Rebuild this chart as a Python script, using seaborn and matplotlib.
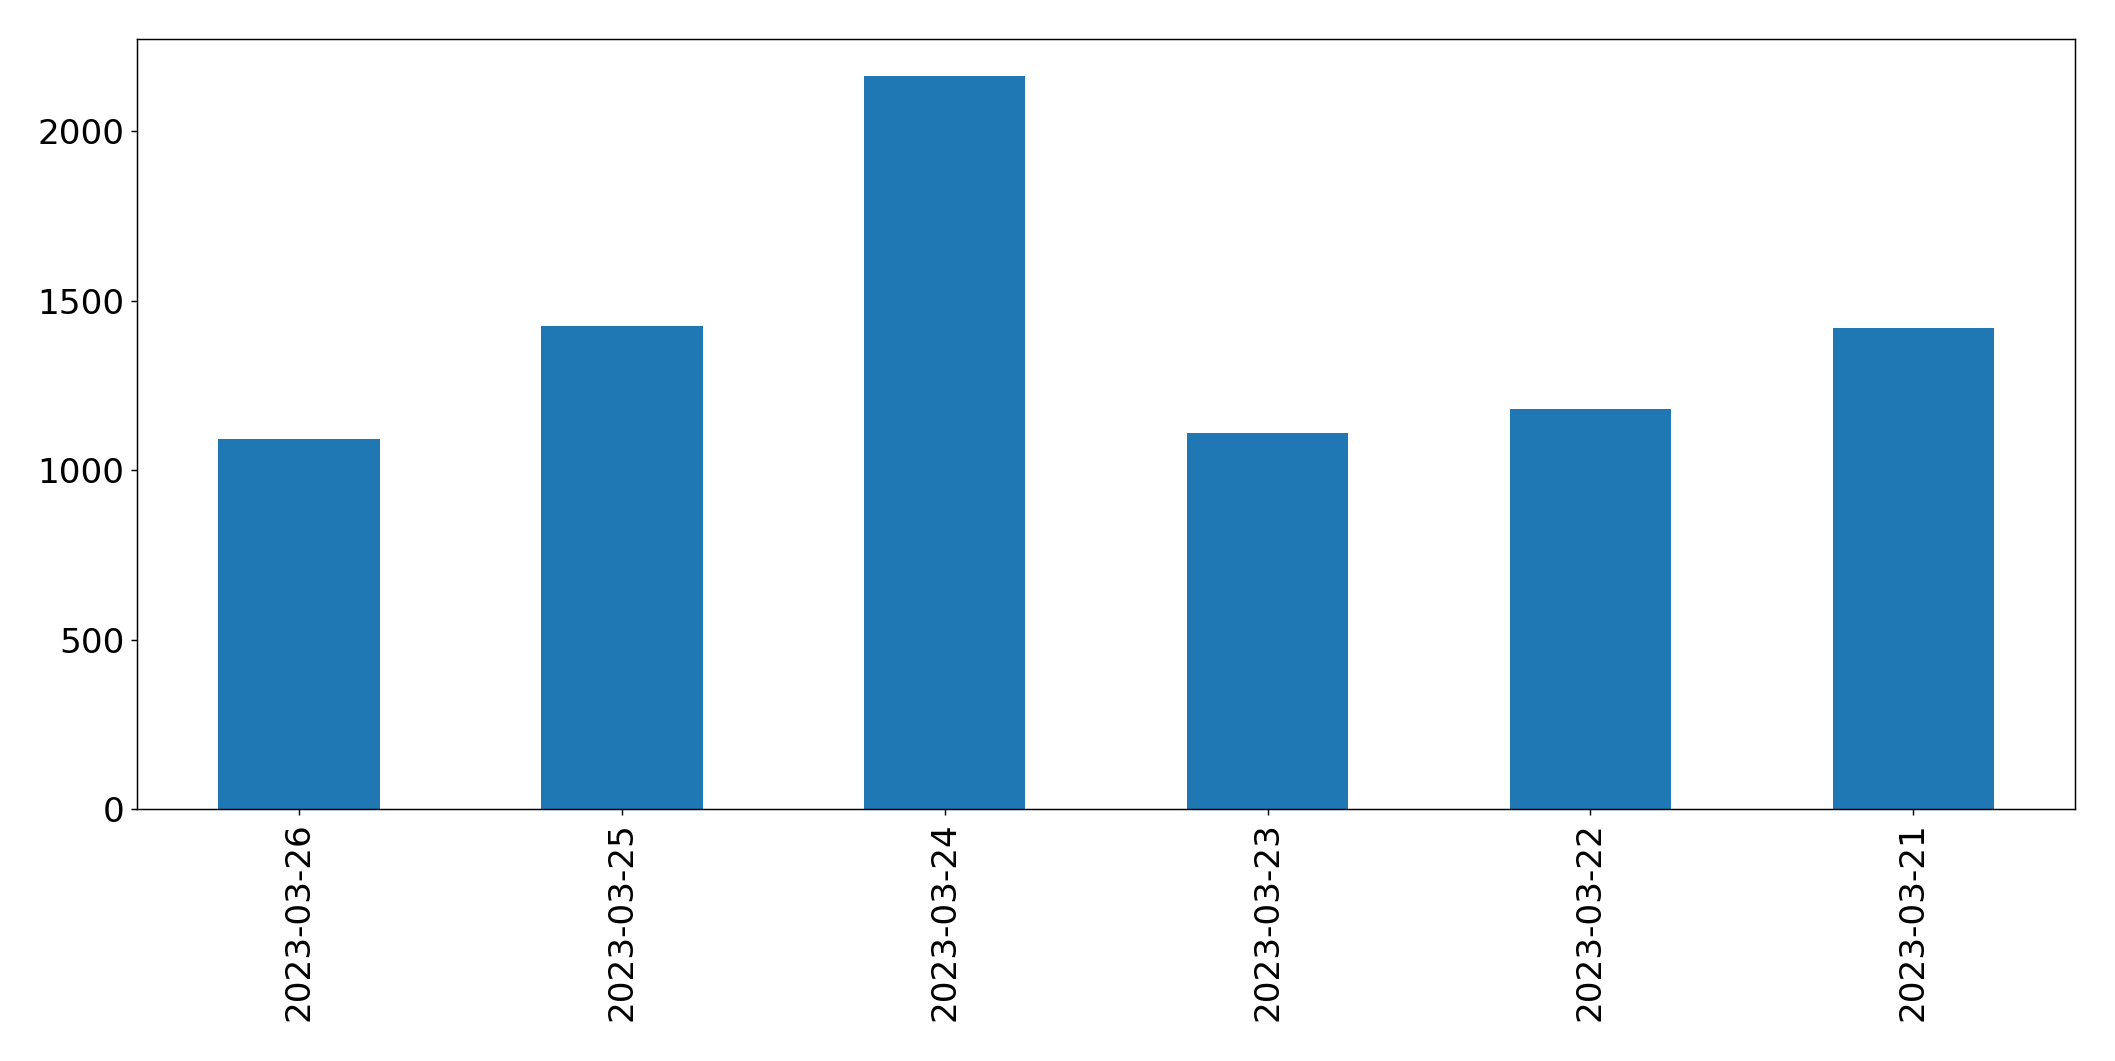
import matplotlib
matplotlib.use("Agg")
import matplotlib.pyplot as plt
import seaborn as sns
import pandas as pd

dates = ["2023-03-26", "2023-03-25", "2023-03-24", "2023-03-23", "2023-03-22", "2023-03-21"]
counts = [1092, 1425, 2164, 1109, 1180, 1421]

df = pd.DataFrame({"date": dates, "count": counts})

plt.rcParams["font.family"] = ["DejaVu Sans"]
fig, ax = plt.subplots(figsize=(2115 / 132, 1061 / 132), dpi=132)
sns.barplot(data=df, x="date", y="count", order=dates, color="#1f77b4",
            saturation=1, width=0.5, errorbar=None, ax=ax)
ax.set_xlim(-0.5, len(dates) - 0.5)
ax.set_ylim(0, max(counts) * 1.05)
ax.set_xlabel("")
ax.set_ylabel("")
for s in ax.spines.values():
    s.set_color("black")
ax.tick_params(axis="both", labelsize=18.7, colors="black")
plt.setp(ax.get_xticklabels(), rotation=90)
fig.subplots_adjust(left=0.065, right=0.981, top=0.963, bottom=0.2375)
fig.savefig("out.png", dpi=132)
